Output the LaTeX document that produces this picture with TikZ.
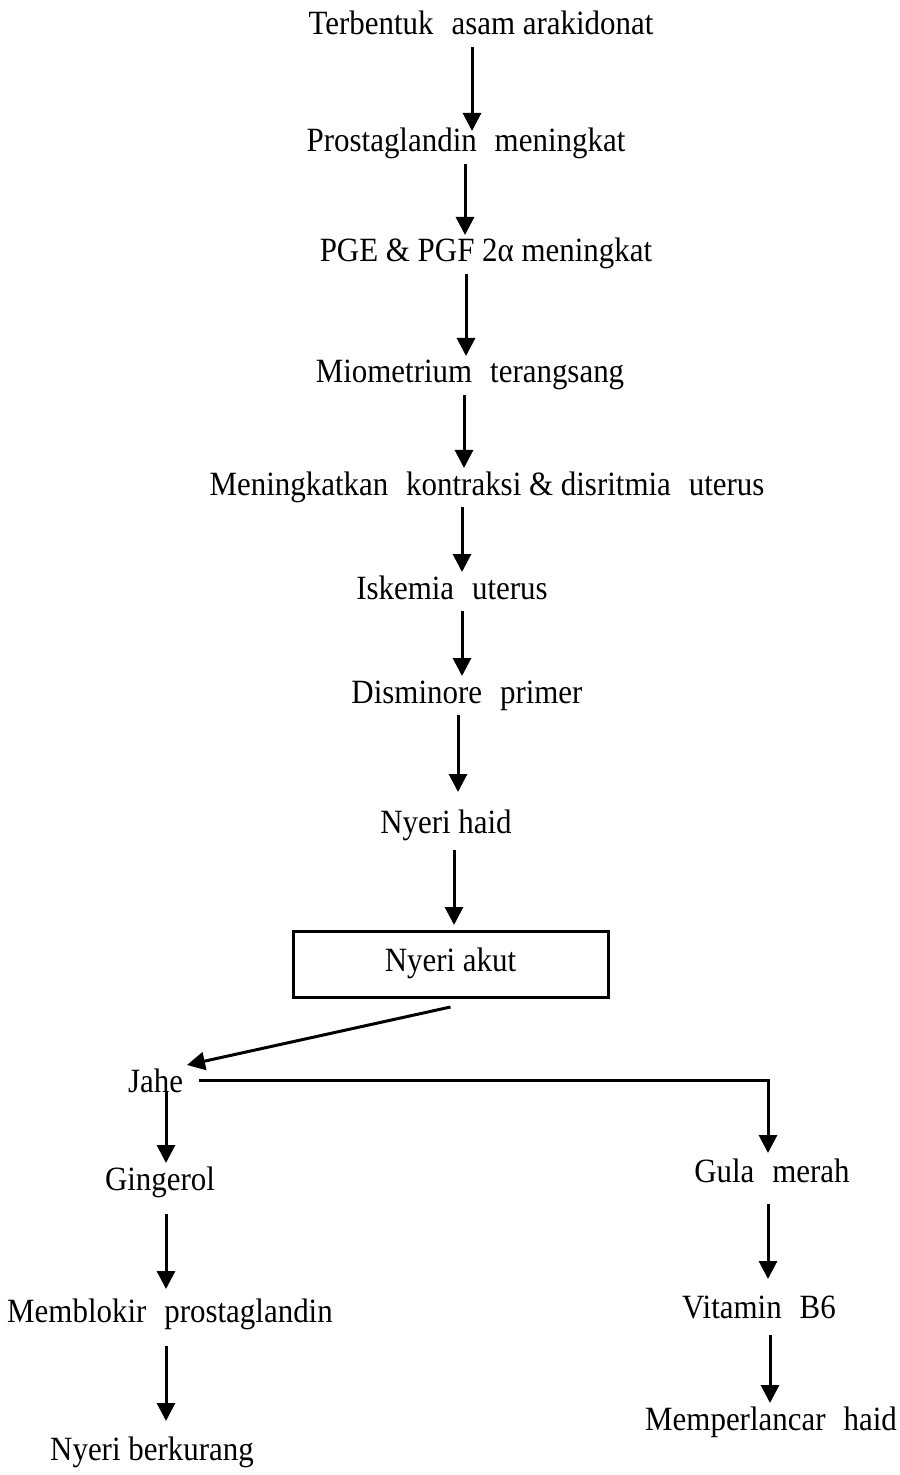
\documentclass[tikz,border=0pt]{standalone}
\usepackage{fontspec}
\setmainfont[FakeStretch=0.91]{Liberation Serif}
\usetikzlibrary{arrows.meta}
\newcommand{\xg}{\hspace{0.3em}}
\begin{document}
\begin{tikzpicture}[x=0.5pt,y=-0.5pt,
  txt/.style={font=\fontsize{17pt}{20pt}\selectfont, inner sep=0pt, outer sep=2pt,
    text height=11.5pt, text depth=4pt, anchor=base},
  boxn/.style={draw, line width=1.5pt, font=\fontsize{17pt}{20pt}\selectfont,
    minimum width=157.5pt, minimum height=33pt, inner sep=0pt, outer sep=0pt,
    text height=11.5pt, text depth=4pt},
  arr/.style={draw, line width=1.5pt, -{Triangle[length=9pt,width=9pt]}},
]
\useasboundingbox (0,0) rectangle (899,1475);

% column coordinates for the arrows
\coordinate (x1) at (472,0);
\coordinate (x2) at (465,0);
\coordinate (x3) at (466,0);
\coordinate (x4) at (464,0);
\coordinate (x5) at (462,0);
\coordinate (x6) at (462,0);
\coordinate (x7) at (458,0);
\coordinate (x8) at (454,0);
\coordinate (xl) at (166,0);
\coordinate (xr) at (768,0);
\coordinate (xr2) at (770,0);

% nodes
\node[txt] (t1) at (481,35) {Terbentuk\xg{} asam arakidonat};
\node[txt] (t2) at (466,152) {Prostaglandin\xg{} meningkat};
\node[txt] (t3) at (486,262) {PGE \& PGF 2α meningkat};
\node[txt] (t4) at (470,383) {Miometrium\xg{} terangsang};
\node[txt] (t5) at (487,495) {Meningkatkan\xg{} kontraksi \& disritmia\xg{} uterus};
\node[txt] (t6) at (452,599) {Iskemia\xg{} uterus};
\node[txt] (t7) at (467,703) {Disminore\xg{} primer};
\node[txt] (t8) at (446,833) {Nyeri haid};
\node[boxn] (box) at (450.5,964) {Nyeri akut};
\node[txt] (jahe) at (155.5,1092) {Jahe};
\node[txt] (ging) at (160,1190) {Gingerol};
\node[txt] (memb) at (170,1322) {Memblokir\xg{} prostaglandin};
\node[txt] (nb) at (152,1460) {Nyeri berkurang};
\node[txt] (gula) at (772,1182) {Gula\xg{} merah};
\node[txt] (vit) at (759,1318) {Vitamin\xg{} B6};
\node[txt] (mp) at (771,1430) {Memperlancar\xg{} haid};

% main chain
\draw[arr] (t1.south -| x1) -- ([yshift=-3pt]t2.north -| x1);
\draw[arr] (t2.south -| x2) -- (t3.north -| x2);
\draw[arr] (t3.south -| x3) -- (t4.north -| x3);
\draw[arr] (t4.south -| x4) -- (t5.north -| x4);
\draw[arr] (t5.south -| x5) -- (t6.north -| x5);
\draw[arr] (t6.south -| x6) -- (t7.north -| x6);
\draw[arr] (t7.south -| x7) -- ([yshift=7pt]t8.north -| x7);
\draw[arr] ([yshift=-2.5pt]t8.south -| x8) -- ([yshift=3pt]box.north -| x8);

% branch
\draw[arr] ([yshift=-5pt]box.south) -- (jahe.north east);
\draw[arr] ([xshift=6pt,yshift=2pt]jahe.east) -| ([yshift=1pt]gula.north -| xr);

% left column
\draw[arr] (jahe.base -| xl) -- (ging.north -| xl);
\draw[arr] ([yshift=-6pt]ging.south -| xl) -- ([yshift=3pt]memb.north -| xl);
\draw[arr] ([yshift=-6pt]memb.south -| xl) -- ([yshift=6pt]nb.north -| xl);

% right column
\draw[arr] ([yshift=-5pt]gula.south -| xr) -- ([yshift=6pt]vit.north -| xr);
\draw[arr] ([yshift=-2.5pt]vit.south -| xr2) -- (mp.north -| xr2);
\end{tikzpicture}
\end{document}
